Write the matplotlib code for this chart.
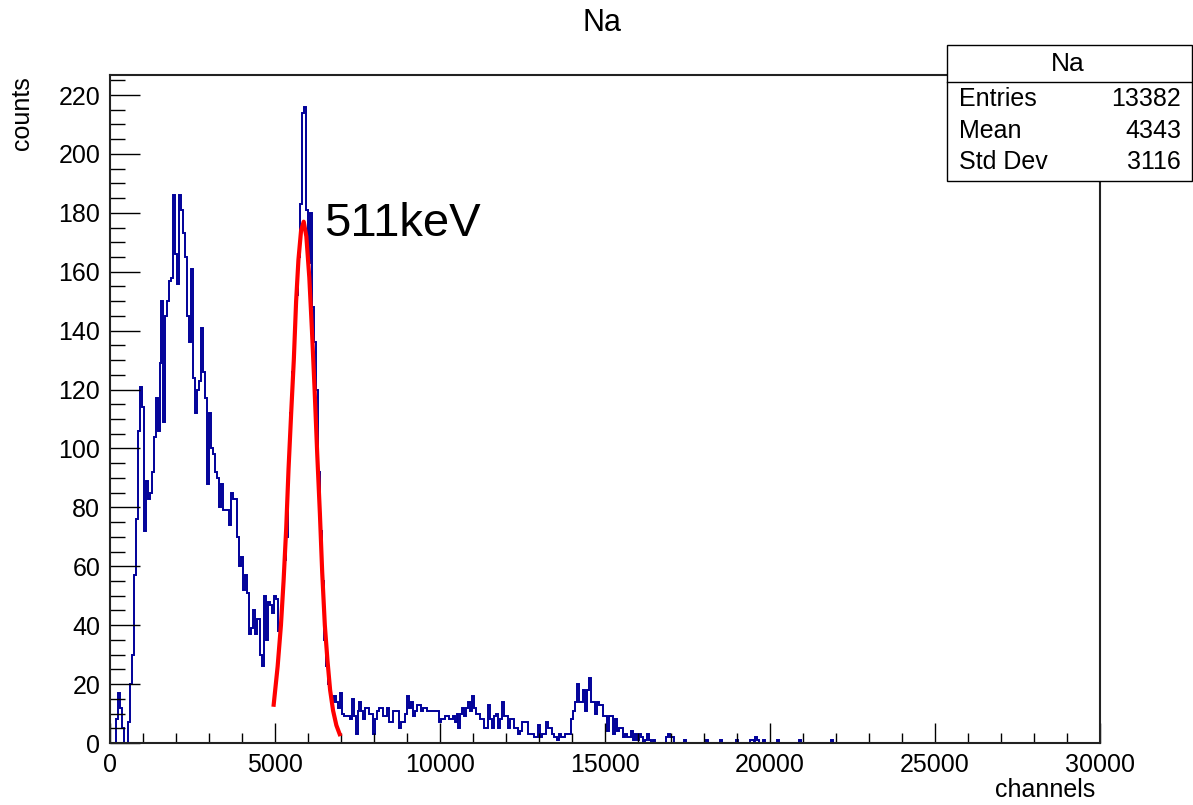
import numpy as np
import matplotlib
matplotlib.use("Agg")
import matplotlib.pyplot as plt
from matplotlib.patches import Rectangle
from matplotlib.lines import Line2D
from matplotlib.ticker import MultipleLocator

plt.rcParams['font.family'] = ['Liberation Sans', 'DejaVu Sans']

# Histogram "Na": 500 bins of 60 channels between 0 and 30000
n_bins = 500
x_min, x_max = 0, 30000

# bins 0-85 (0 - 5160 channels)
counts_low = [0, 0, 0, 8, 17, 12, 5, 0, 0, 7,
              20, 30, 57, 76, 106, 121, 114, 72, 89, 83,
              85, 92, 104, 117, 106, 129, 150, 109, 145, 150,
              157, 158, 186, 166, 156, 186, 181, 173, 165, 145,
              136, 161, 124, 112, 120, 123, 141, 126, 117, 88,
              112, 100, 98, 92, 90, 80, 88, 79, 79, 79,
              74, 85, 83, 83, 70, 60, 63, 52, 57, 51,
              37, 39, 45, 37, 42, 42, 30, 26, 50, 35,
              48, 47, 44, 50, 49, 38]
# bins 86-112 (511 keV peak)
counts_peak = [40, 52, 62, 70, 96, 112, 126, 141, 152, 165,
               183, 214, 216, 181, 163, 180, 148, 136, 120, 92,
               72, 55, 35, 26, 20, 16, 14]
# bins 113-289
counts_tail = [16, 14, 12, 17, 10, 9, 9, 9, 8, 15,
               9, 3, 11, 14, 11, 8, 12, 12, 10, 10,
               3, 8, 11, 12, 12, 9, 9, 12, 7, 7,
               11, 11, 11, 5, 7, 7, 10, 16, 12, 14,
               9, 11, 13, 13, 11, 12, 12, 11, 11, 11,
               11, 11, 11, 7, 8, 8, 9, 9, 8, 8,
               9, 7, 10, 5, 10, 12, 9, 12, 14, 11,
               16, 12, 10, 10, 8, 8, 5, 5, 13, 8,
               5, 9, 10, 5, 8, 14, 9, 9, 5, 8,
               8, 5, 5, 3, 4, 7, 7, 7, 3, 3,
               3, 2, 2, 6, 2, 3, 3, 7, 5, 5,
               3, 2, 2, 1, 3, 2, 2, 3, 3, 3,
               8, 11, 14, 20, 14, 14, 18, 11, 18, 22,
               14, 14, 10, 14, 13, 13, 9, 9, 4, 9,
               9, 3, 8, 4, 5, 5, 2, 3, 2, 2,
               4, 1, 3, 1, 3, 2, 0, 1, 3, 1,
               0, 1, 0, 0, 0, 0, 0, 0, 2, 3,
               2, 2, 0, 0, 0, 0, 0]
# isolated entries further out
sparse_ch = [17420, 18080, 18500, 18980, 19400, 19460, 19580, 19640, 19820, 20240, 20900, 21860]
sparse_n = [1, 1, 1, 1, 1, 1, 2, 1, 1, 1, 1, 1]

# gaussian fit line over the peak
fit_ch = [4960, 5080, 5180, 5260, 5340, 5410, 5490, 5570, 5640, 5710,
          5790, 5870, 5950, 6040, 6120, 6200, 6280, 6360, 6430, 6510,
          6590, 6670, 6760, 6860, 6960]
fit_counts = [13, 26, 40, 55, 73, 93, 112, 130, 150, 164,
              174, 177, 172, 158, 140, 120, 98, 78, 58, 40,
              28, 18, 11, 6, 3]

stats_names = ["Entries", "Mean", "Std Dev"]
stats_values = ["13382", "4343", "3116"]

edges = np.linspace(x_min, x_max, n_bins + 1)
bin_w = edges[1] - edges[0]
counts = np.zeros(n_bins)
seq = counts_low + counts_peak + counts_tail
counts[:len(seq)] = seq
for ch, n in zip(sparse_ch, sparse_n):
    counts[int(ch // bin_w)] += n

W, H = 1193, 805
fig = plt.figure(figsize=(W / 100, H / 100), dpi=100)
ax = fig.add_axes([110 / W, 62 / H, 990 / W, 668 / H])

ax.stairs(counts, edges, color='#000099', lw=1.4, baseline=None)
ax.plot(fit_ch, fit_counts, color='#ff0000', lw=3)

ax.set_xlim(x_min, x_max)
ax.set_ylim(0, 1.05 * counts.max())

ax.xaxis.set_major_locator(MultipleLocator(5000))
ax.xaxis.set_minor_locator(MultipleLocator(1000))
ax.yaxis.set_major_locator(MultipleLocator(20))
ax.yaxis.set_minor_locator(MultipleLocator(5))
ax.tick_params(which='both', direction='in', top=False, right=False, width=1)
ax.tick_params(axis='x', which='major', length=14.4, labelsize=18, pad=7)
ax.tick_params(axis='x', which='minor', length=7.2)
ax.tick_params(axis='y', which='major', length=21.6, labelsize=18, pad=7)
ax.tick_params(axis='y', which='minor', length=10.8)
for s in ax.spines.values():
    s.set_linewidth(1.5)
    s.set_color('#222222')
    s.set_zorder(3)

ax.text(6500, 172, '511keV', fontsize=34, va='baseline', ha='left')

# axis titles placed like ROOT (at the axis ends)
fig.text(1095 / W, 1 - 790 / H, 'channels', ha='right', va='center', fontsize=18)
fig.text(22 / W, 1 - 76 / H, 'counts', ha='center', va='top', rotation=90, fontsize=18)

# title
fig.text(602 / W, 1 - 23 / H, 'Na', ha='center', va='center', fontsize=22)

# stats box
bx0, bx1, by0, by1 = 947, 1192, 45, 181
fig.add_artist(Rectangle((bx0 / W, 1 - by1 / H), (bx1 - bx0) / W, (by1 - by0) / H,
                         transform=fig.transFigure, facecolor='white',
                         edgecolor='black', lw=1, zorder=5))
fig.add_artist(Line2D([bx0 / W, bx1 / W], [1 - 82 / H, 1 - 82 / H],
                      transform=fig.transFigure, color='black', lw=1, zorder=6))
fig.text(1068 / W, 1 - 64 / H, 'Na', ha='center', va='center', fontsize=19, zorder=7)
for i, (name, val) in enumerate(zip(stats_names, stats_values)):
    y = 1 - (99 + 31.5 * i) / H
    fig.text(959 / W, y, name, ha='left', va='center', fontsize=18, zorder=7)
    fig.text(1181 / W, y, val, ha='right', va='center', fontsize=18, zorder=7)

fig.savefig('out.png', dpi=100)
